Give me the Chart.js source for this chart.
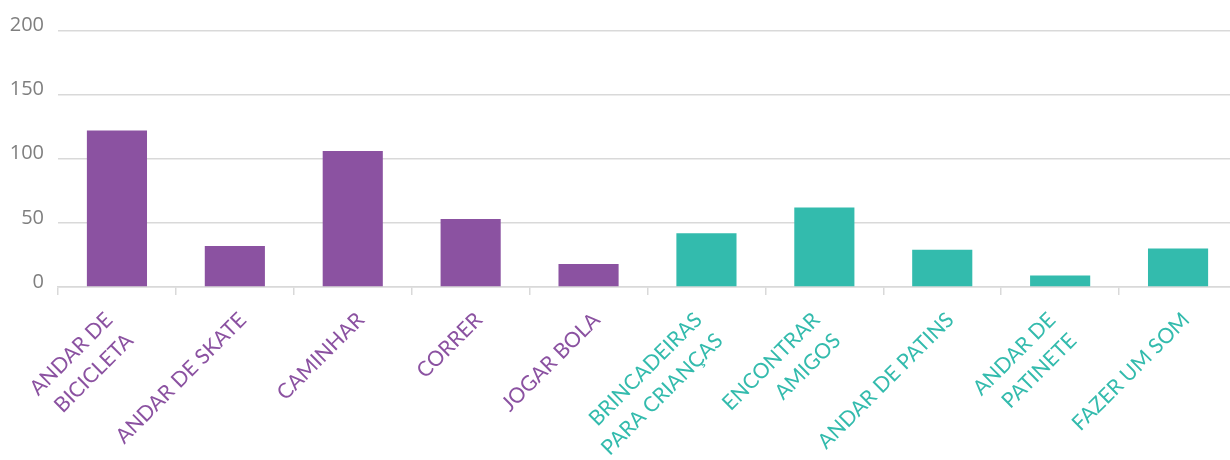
<!DOCTYPE html>
<html>
<head>
<meta charset="utf-8">
<script src="https://cdn.jsdelivr.net/npm/chart.js@4"></script>
<style>
body{margin:0;background:#fff;overflow:hidden}
#wrap{width:1230px;height:460px;overflow:hidden}
</style>
</head>
<body>
<div id="wrap"><canvas id="myChart" width="1237" height="460"></canvas></div>
<script>
var categories=[
    ['ANDAR DE','BICICLETA'],
    'ANDAR DE SKATE',
    'CAMINHAR',
    'CORRER',
    'JOGAR BOLA',
    ['BRINCADEIRAS','PARA CRIANÇAS'],
    ['ENCONTRAR','AMIGOS'],
    'ANDAR DE PATINS',
    ['ANDAR DE','PATINETE'],
    'FAZER UM SOM'
]
var values=[122,32,106,53,18,42,62,29,9,30]
var groups=['a','a','a','a','a','b','b','b','b','b']
var yTicks=[0,50,100,150,200]

var purple='#8B52A1'
var teal='#33BBAD'

function colorFor(i){
    return groups[i]=='a' ? purple : teal
}

// excel centres two-line labels, chart.js hangs them from the first line
var labelShift={
    id:'labelShift',
    beforeDraw:function(chart){
        var items=chart.scales.x.getLabelItems(chart.chartArea)
        items.forEach(function(it){
            if(Array.isArray(it.label) && !it._moved){
                it.options.translation[0]-=16
                it._moved=true
            }
        })
    }
}

var ctx=document.getElementById('myChart')
var myChart=new Chart(ctx,{
    type:'bar',
    data:{
        labels:categories,
        datasets:[{
            data:values,
            backgroundColor:values.map(function(v,i){return colorFor(i)}),
            barPercentage:0.51,
            categoryPercentage:1.0
        }]
    },
    options:{
        responsive:false,
        animation:false,
        layout:{padding:{top:30.5,right:0,left:0,bottom:0}},
        plugins:{legend:{display:false},tooltip:{enabled:false}},
        scales:{
            x:{
                grid:{offset:true,drawOnChartArea:false,color:'#d9d9d9',lineWidth:1.5,tickLength:8},
                border:{color:'#d9d9d9',width:1.5},
                ticks:{
                    maxRotation:45,minRotation:45,autoSkip:false,
                    color:function(c){return colorFor(c.index)},
                    font:{family:'Lato',size:21,lineHeight:1.4},
                    padding:11,
                    labelOffset:8
                },
                afterFit:function(axis){axis.height=173}
            },
            y:{
                min:0,max:200,
                afterBuildTicks:function(axis){axis.ticks=yTicks.map(function(v){return {value:v}})},
                grid:{color:'#d9d9d9',lineWidth:1.5,drawTicks:false},
                border:{display:false},
                ticks:{color:'#7f7f7f',font:{family:'Open Sans',size:20},padding:14,labelOffset:-5},
                afterFit:function(axis){axis.width=58}
            }
        }
    },
    plugins:[labelShift]
})
</script>
</body>
</html>
